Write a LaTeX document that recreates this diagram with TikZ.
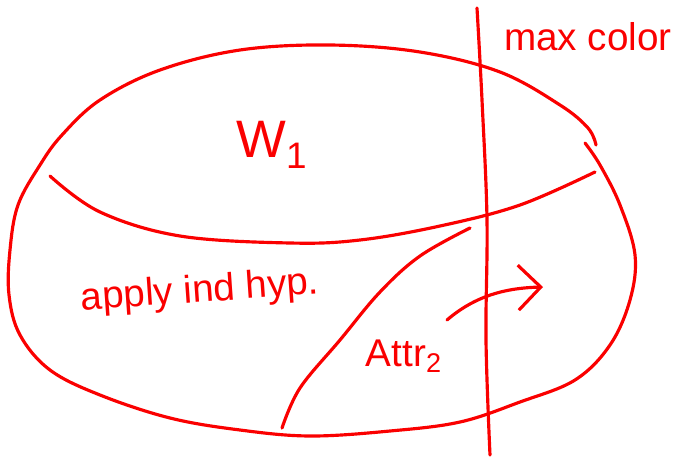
\documentclass[tikz,border=0pt]{standalone}
\usepackage{fontspec}
\setmainfont{Liberation Sans}
\usepackage{tikz}
\usetikzlibrary{arrows.meta, calc}
\definecolor{inkred}{RGB}{250,0,0}
\tikzset{
  ink/.style={draw=inkred, line width=1.8pt, line cap=round, line join=round},
  scrawl/.style={text=inkred, inner sep=0pt}
}

\begin{document}
\begin{tikzpicture}[x=0.02cm, y=-0.02cm]
  \useasboundingbox (0,0) rectangle (677,457);
  % outline of the set, drawn in two strokes
  \draw[ink] plot[smooth, tension=0.6] coordinates {(596,145) (588,128) (560,105) (500,72) (420,52) (330,45) (240,50) (160,70) (100,100) (62,135) (40,165) (18,205) (10,250) (9,295) (20,335) (50,370) (100,395) (170,418) (240,430) (310,436) (390,431) (460,422) (520,402) (575,380) (610,345) (630,300) (635,255) (620,205) (600,165) (585,143)};
  % W_1 split
  \draw[ink] plot[smooth, tension=0.6] coordinates {(50,176) (100,212) (180,236) (290,243) (360,240) (440,226) (520,205) (595,172)};
  % max color line
  \draw[ink] plot[smooth, tension=0.6] coordinates {(477,8) (482,100) (487,220) (486,340) (490,455)};
  % attractor boundary
  \draw[ink] plot[smooth, tension=0.6] coordinates {(470,228) (420,256) (380,292) (340,340) (300,388) (282,428)};

  \node[scrawl, font=\fontsize{22}{24}\selectfont] (maxc) at (588,37) {max color};
  \node[scrawl, font=\fontsize{30}{32}\selectfont] (w1) at (272,145) {W\textsubscript{1}};
  \node[scrawl, font=\fontsize{22}{24}\selectfont, rotate=4] (ind) at (200,292) {apply ind hyp.};
  \node[scrawl, font=\fontsize{22}{24}\selectfont] (attr) at (404,356) {Attr\textsubscript{2}};

  \coordinate (arrS) at (447,320);
  \coordinate (arrE) at (543,287);
  \draw[ink, -{Straight Barb[length=4.5mm, width=9mm]}] (arrS) .. controls (475,296) and (505,288) .. (arrE);
\end{tikzpicture}
\end{document}
